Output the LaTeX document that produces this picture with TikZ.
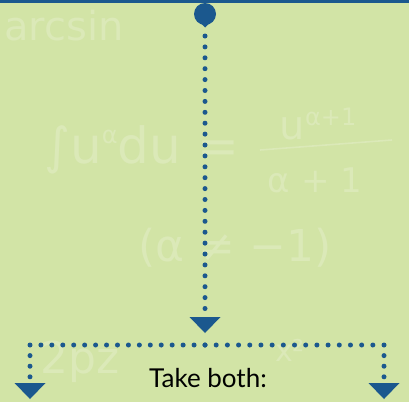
\documentclass[tikz,border=0pt]{standalone}
\usepackage{fontspec}
\setmainfont{Lato}
\newfontfamily\chalkfont{DejaVu Sans}
\definecolor{bgc}{RGB}{210,228,166}
\definecolor{chalk}{RGB}{219,233,184}
\definecolor{flowblue}{RGB}{27,88,142}
\tikzset{
  dotline/.style={draw=flowblue, line width=5pt, line cap=round, dash pattern=on 0pt off #1},
  dotline/.default=10.9pt,
  tipdown/.style={fill=flowblue},
  chalktext/.style={text=chalk, font=\chalkfont\fontsize{#1}{#1}\selectfont, inner sep=0pt},
  label/.style={text=black, font=\fontsize{26}{26}\selectfont, inner sep=0pt}
}
\begin{document}
\begin{tikzpicture}[x=1pt,y=-1pt]
\fill[bgc] (0,0) rectangle (409,402);
\useasboundingbox (0,0) rectangle (409,402);
% faint chalk formulas
\node[chalktext=40, anchor=west] (c1) at (4,26) {arcsin};
\node[chalktext=50, anchor=west] (c2) at (44,150) {∫u\raisebox{20pt}{\fontsize{24}{24}\selectfont α}du =};
\node[chalktext=40] (c3) at (318,124) {u\raisebox{14pt}{\fontsize{24}{24}\selectfont α+1}};
\draw[chalk, line width=1.6pt] (260,150) -- (392,140);
\node[chalktext=34] (c4) at (315,180) {α + 1};
\node[chalktext=44] (c5) at (235,248) {(α ≠ −1)};
\node[chalktext=44, anchor=west] (c6) at (40,362) {2pz};
\node[chalktext=30] (c7) at (290,350) {x²};
% top band
\fill[flowblue] (0,0) rectangle (409,3);
% source dot
\node[circle, fill=flowblue, minimum size=22pt, inner sep=0pt] (src) at (205,14) {};
\fill[flowblue] (199.5,22) -- (205,27.5) -- (210.5,22) -- cycle;
% coordinates
\coordinate (v0) at (205,36);
\coordinate (v1) at (205,309);
\coordinate (hm) at (205,345);
\coordinate (hl) at (30,345);
\coordinate (hr) at (384,345);
\coordinate (ld) at (30,377);
\coordinate (rd) at (384,377);
% vertical dotted connector
\draw[dotline] (v0) -- (v1);
\fill[tipdown] (189.5,317) -- (220.5,317) -- (205,333) -- cycle;
% horizontal dotted connector
\draw[dotline=10.94pt] (hm) -- (hl);
\draw[dotline=11.19pt] (hm) -- (hr);
% down branches
\draw[dotline=10.6pt] (hl) -- (ld);
\draw[dotline=10.6pt] (hr) -- (rd);
\fill[tipdown] (14.5,383) -- (45.5,383) -- (30,399) -- cycle;
\fill[tipdown] (368.5,383) -- (399.5,383) -- (384,399) -- cycle;
% label
\node[label, anchor=base] (lbl) at (208,387) {Take both:};
\end{tikzpicture}
\end{document}
